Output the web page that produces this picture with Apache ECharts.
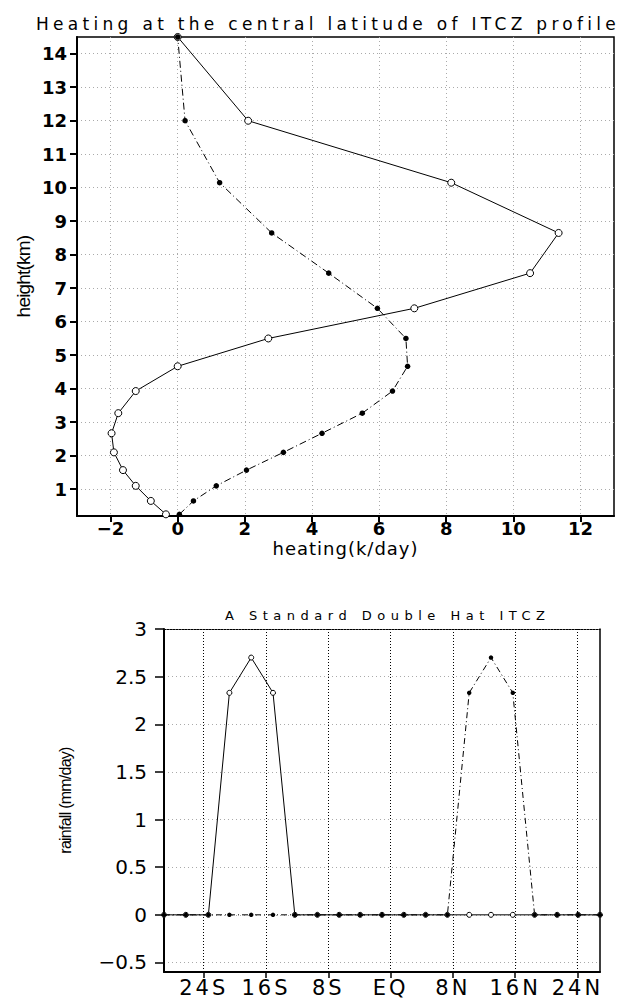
<!DOCTYPE html>
<html><head><meta charset="utf-8">
<script src="https://cdn.jsdelivr.net/npm/echarts@6/dist/echarts.min.js"></script>
<style>
html,body{margin:0;padding:0;background:#fff;}
#c{width:629px;height:1000px;}
#c text[style*="zzTa"]{letter-spacing:4.3px;}
#c text[style*="zzTb"]{letter-spacing:5.5px;}
#c text[style*="zzHx"]{letter-spacing:1px;}
#c text[style*="zzLx"]{letter-spacing:3px;}
#c text[style*="zzNa"]{letter-spacing:-0.8px;}
#c text[style*="zzNb"]{letter-spacing:-0.75px;}
</style></head><body><div id="c"></div>
<script>
// ---- top chart data ----
const heights = [0.25, 0.65, 1.1, 1.57, 2.1, 2.67, 3.27, 3.93, 4.67, 5.5, 6.4, 7.45, 8.65, 10.15, 12, 14.5];
const heatingSolid = [-0.35, -0.8, -1.25, -1.63, -1.9, -1.97, -1.77, -1.25, 0, 2.7, 7.05, 10.5, 11.35, 8.15, 2.1, 0];
const heatingDashed = [0.05, 0.47, 1.15, 2.05, 3.15, 4.3, 5.5, 6.4, 6.85, 6.8, 5.95, 4.5, 2.8, 1.25, 0.22, 0];
const heatingTicks = [-2, 0, 2, 4, 6, 8, 10, 12];
const heightTicks = [1, 2, 3, 4, 5, 6, 7, 8, 9, 10, 11, 12, 13, 14];

// ---- bottom chart data ----
const lats = [-29.1, -26.3, -23.4, -20.7, -17.9, -15.1, -12.3, -9.4, -6.6, -3.9, -1.1, 1.7, 4.5, 7.3, 10.1, 12.9, 15.7, 18.5, 21.4, 24.1, 26.9];
const rainSouth = [0, 0, 0, 2.33, 2.7, 2.33, 0, 0, 0, 0, 0, 0, 0, 0, 0, 0, 0, 0, 0, 0, 0];
const rainNorth = [0, 0, 0, 0, 0, 0, 0, 0, 0, 0, 0, 0, 0, 0, 2.33, 2.7, 2.33, 0, 0, 0, 0];
const latTicks = [-24, -16, -8, 0, 8, 16, 24];
const latTickLabels = ['24S', '16S', '8S', 'EQ', '8N', '16N', '24N'];
const rainTicks = [-0.5, 0, 0.5, 1, 1.5, 2, 2.5, 3];
const rainTickLabels = ['\u22120.5', '0', '0.5', '1', '1.5', '2', '2.5', '3'];

const chart = echarts.init(document.getElementById('c'), null, {renderer: 'svg'});
const minus = v => String(v).replace('-', '\u2212');
const FT = 'DejaVu Sans';

chart.setOption({
  animation: false,
  backgroundColor: '#fff',
  title: [
    {text: 'Heating at the central latitude of ITCZ profile', left: 36, top: 15, padding: 0,
     textStyle: {fontFamily: FT + ', zzTa', fontSize: 17, fontWeight: 'normal', color: '#000'}},
    {text: 'A Standard Double Hat ITCZ', left: 225, top: 609, padding: 0,
     textStyle: {fontFamily: FT + ', zzTb', fontSize: 13, fontWeight: 'normal', color: '#000'}}
  ],
  grid: [
    {left: 77, top: 37, right: 15, height: 479, show: true, borderColor: '#000', borderWidth: 1.5, outerBoundsMode: 'none', containLabel: false},
    {left: 164, top: 629, right: 29, height: 343, show: false, outerBoundsMode: 'none', containLabel: false}
  ],
  xAxis: [
    {type: 'value', gridIndex: 0, min: -3, max: 13, splitNumber: 8, minInterval: 2, maxInterval: 2,
     axisLine: {show: true, onZero: false, lineStyle: {color: '#000', width: 2}},
     axisTick: {show: true, inside: false, length: 6, lineStyle: {color: '#000', width: 2}, customValues: heatingTicks},
     axisLabel: {show: true, margin: 5, lineHeight: 14, color: '#000', fontFamily: FT, fontWeight: 'bold', fontSize: 18,
                 customValues: heatingTicks, formatter: minus},
     splitLine: {show: true, lineStyle: {color: '#aaa', width: 1, type: [1, 3]}},
     name: 'heating(k/day)', nameLocation: 'middle', nameGap: 24, nameMoveOverlap: false,
     nameTextStyle: {fontFamily: FT + ', zzHx', fontSize: 18, lineHeight: 16, color: '#000'}},
    {type: 'value', gridIndex: 1, min: -29.1, max: 26.9, splitNumber: 7, minInterval: 8, maxInterval: 8,
     axisLine: {show: true, onZero: false, lineStyle: {color: '#000', width: 2}},
     axisTick: {show: true, inside: false, length: 6, lineStyle: {color: '#000', width: 1.5}, customValues: latTicks},
     axisLabel: {show: true, margin: 5, color: '#000', fontFamily: FT + ', zzLx', fontSize: 21,
                 customValues: latTicks,
                 formatter: v => { const i = latTicks.indexOf(v); return i < 0 ? '' : latTickLabels[i]; }},
     splitLine: {show: true, lineStyle: {color: '#000', width: 1, type: [1, 2]}}},
    {type: 'value', gridIndex: 1, position: 'top', min: -29.1, max: 26.9,
     axisLine: {show: true, onZero: false, lineStyle: {color: '#000', width: 1, type: [2, 1]}},
     axisTick: {show: false}, axisLabel: {show: false}, splitLine: {show: false}}
  ],
  yAxis: [
    {type: 'value', gridIndex: 0, min: 0.2, max: 14.5, splitNumber: 14, minInterval: 1, maxInterval: 1,
     axisLine: {show: true, onZero: false, lineStyle: {color: '#000', width: 2}},
     axisTick: {show: true, inside: false, length: 7, lineStyle: {color: '#000', width: 2}, customValues: heightTicks},
     axisLabel: {show: true, margin: 10, color: '#000', fontFamily: FT, fontWeight: 'bold', fontSize: 18,
                 customValues: heightTicks, formatter: v => String(v)},
     splitLine: {show: true, lineStyle: {color: '#aaa', width: 1, type: [1, 3]}},
     name: 'height(km)', nameLocation: 'middle', nameRotate: 90, nameGap: 44, nameMoveOverlap: false,
     nameTextStyle: {fontFamily: 'Liberation Sans, zzNa', fontSize: 19, color: '#000'}},
    {type: 'value', gridIndex: 1, min: -0.6, max: 3, splitNumber: 7, minInterval: 0.5, maxInterval: 0.5,
     axisLine: {show: true, onZero: false, lineStyle: {color: '#000', width: 2}},
     axisTick: {show: true, inside: false, length: 9, lineStyle: {color: '#000', width: 1.5}, customValues: rainTicks},
     axisLabel: {show: true, margin: 17, color: '#000', fontFamily: FT, fontSize: 20,
                 customValues: rainTicks,
                 formatter: v => { const i = rainTicks.indexOf(v); return i < 0 ? '' : rainTickLabels[i]; }},
     splitLine: {show: true, lineStyle: {color: '#aaa', width: 1, type: [1, 3]}},
     name: 'rainfall (mm/day)', nameLocation: 'middle', nameRotate: 90, nameGap: 91, nameMoveOverlap: false,
     nameTextStyle: {fontFamily: 'Liberation Sans, zzNb', fontSize: 16, color: '#000'}},
    {type: 'value', gridIndex: 1, position: 'right', min: -0.6, max: 3,
     axisLine: {show: true, onZero: false, lineStyle: {color: '#000', width: 1.5}},
     axisTick: {show: false}, axisLabel: {show: false}, splitLine: {show: false}}
  ],
  series: [
    {type: 'line', xAxisIndex: 0, yAxisIndex: 0, silent: true,
     data: heights.map((h, i) => [heatingSolid[i], h]),
     symbol: 'circle', symbolSize: 7, showAllSymbol: true,
     itemStyle: {color: '#fff', borderColor: '#000', borderWidth: 1},
     lineStyle: {color: '#000', width: 1, type: 'solid'}},
    {type: 'line', xAxisIndex: 0, yAxisIndex: 0, silent: true,
     data: heights.map((h, i) => [heatingDashed[i], h]),
     symbol: 'circle', symbolSize: 5.5, showAllSymbol: true,
     itemStyle: {color: '#000', borderColor: '#000', borderWidth: 0},
     lineStyle: {color: '#000', width: 1, type: [7, 3, 1, 3]}},
    {type: 'line', xAxisIndex: 1, yAxisIndex: 1, silent: true,
     data: lats.map((x, i) => [x, rainSouth[i]]),
     symbol: 'circle', symbolSize: 5, showAllSymbol: true,
     itemStyle: {color: '#fff', borderColor: '#000', borderWidth: 1},
     lineStyle: {color: '#000', width: 1, type: 'solid'}},
    {type: 'line', xAxisIndex: 1, yAxisIndex: 1, silent: true,
     data: lats.map((x, i) => [x, rainNorth[i]]),
     symbol: 'circle', symbolSize: 4.5, showAllSymbol: true,
     itemStyle: {color: '#000', borderColor: '#000', borderWidth: 0},
     lineStyle: {color: '#000', width: 1, type: [6, 3, 1, 3]}}
  ]
});
</script></body></html>
